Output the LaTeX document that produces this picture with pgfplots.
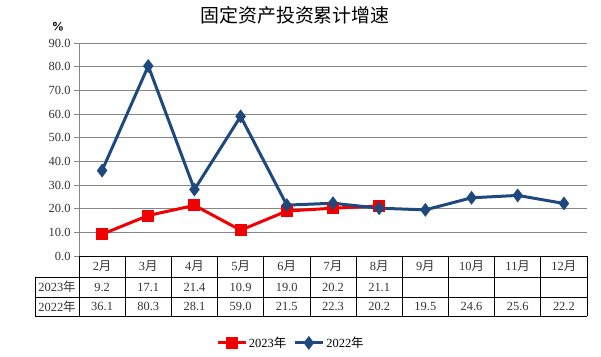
\documentclass[border=0pt]{standalone}
\usepackage{pgfplots}
\pgfplotsset{compat=1.18}
\usepackage{fontspec}
\setmainfont{Liberation Serif}
\newfontfamily\cjk{Noto Sans CJK SC}
\definecolor{red23}{RGB}{240,0,0}
\definecolor{blue22}{RGB}{31,73,125}
\definecolor{gridc}{RGB}{134,134,134}
\begin{document}
\begin{tikzpicture}[x=1bp,y=1bp]
\path[use as bounding box] (0,0) rectangle (601,356);
\begin{axis}[at={(79bp,100bp)}, anchor=south west, scale only axis,
  width=508bp, height=213bp,
  xmin=-0.5, xmax=10.5, ymin=0, ymax=90,
  ytick={0,10,...,90}, xtick=\empty,
  axis x line*=bottom, axis y line*=left,
  y axis line style={gridc, line width=0.8bp},
  x axis line style={black, line width=0.8bp},
  ymajorgrids, grid style={gridc, line width=0.8bp},
  tick align=outside, major tick length=5bp, ytick style={gridc, line width=0.8bp},
  yticklabel style={/pgf/number format/.cd, fixed, fixed zerofill, precision=1, assume math mode=true},
  ticklabel style={font=\fontsize{12.5}{14}\selectfont, text=black!80},
  legend style={at={(0.417,-0.408)}, anchor=center, draw=none, fill=none,
    legend columns=2, font=\fontsize{12.5}{14}\selectfont,
    /tikz/every even column/.append style={column sep=5bp}},
  legend cell align=left,
  legend image code/.code={\draw[#1, mark repeat=2, mark phase=2] plot coordinates {(0bp,0bp) (14bp,0bp) (28bp,0bp)};},
]
\addplot[red23, line width=3bp, mark=square*, mark size=4.5bp, mark options={solid}]
  coordinates {(0,9.2) (1,17.1) (2,21.4) (3,10.9) (4,19.0) (5,20.2) (6,21.1)};
\addlegendentry{2023{\cjk 年}}
\addplot[blue22, line width=3bp, mark=diamond*, mark size=4.5bp, mark options={solid}]
  coordinates {(0,36.1) (1,80.3) (2,28.1) (3,59.0) (4,21.5) (5,22.3) (6,20.2) (7,19.5) (8,24.6) (9,25.6) (10,22.2)};
\addlegendentry{2022{\cjk 年}}
\end{axis}
% title and unit
\node at (295,341) {\cjk\fontsize{19}{22}\selectfont 固定资产投资累计增速};
\node at (58,329) {\fontsize{11}{13}\selectfont\bfseries\sffamily\%};
% table lines
\begin{scope}[line width=0.8bp]
\draw (79,100) -- (587,100);
\draw (35,79) -- (587,79);
\draw (35,59) -- (587,59);
\draw (35,40) -- (587,40);
\draw (35,79) -- (35,40);
\foreach \k in {0,...,11} { \draw ({79+46.18*\k},100) -- ({79+46.18*\k},40); }
\end{scope}
\def\cw{46.18}
\foreach \m [count=\i from 0] in {2,3,4,5,6,7,8,9,10,11,12} {
  \node[font=\fontsize{12.5}{14}\selectfont, text=black!80] at ({79+\cw*(\i+0.5)},89.5) {\m{\cjk 月}};
}
\foreach \v [count=\i from 0] in {9.2,17.1,21.4,10.9,19.0,20.2,21.1} {
  \node[font=\fontsize{12.5}{14}\selectfont, text=black!80] at ({79+\cw*(\i+0.5)},69) {\v};
}
\foreach \v [count=\i from 0] in {36.1,80.3,28.1,59.0,21.5,22.3,20.2,19.5,24.6,25.6,22.2} {
  \node[font=\fontsize{12.5}{14}\selectfont, text=black!80] at ({79+\cw*(\i+0.5)},49.5) {\v};
}
\node[font=\fontsize{12.5}{14}\selectfont, text=black!80] at (57,69) {2023{\cjk 年}};
\node[font=\fontsize{12.5}{14}\selectfont, text=black!80] at (57,49.5) {2022{\cjk 年}};
\end{tikzpicture}
\end{document}
